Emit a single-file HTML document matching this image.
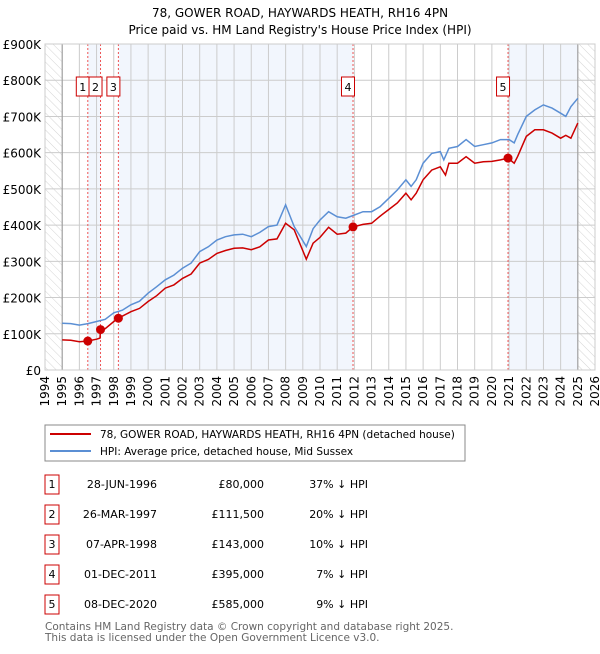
<!DOCTYPE html>
<html><head><meta charset="utf-8"><style>
body{margin:0;background:#fff;font-family:"DejaVu Sans","Liberation Sans",sans-serif;}
svg text{font-family:"DejaVu Sans","Liberation Sans",sans-serif;}
</style></head><body>
<svg id="c" width="600" height="650" xmlns="http://www.w3.org/2000/svg">
<defs><pattern id="hatch" width="6" height="6" patternUnits="userSpaceOnUse" patternTransform="rotate(-45)"><line x1="0" y1="0" x2="0" y2="6" stroke="#d4d4d4" stroke-width="1"/></pattern></defs>
<text x="300" y="17" text-anchor="middle" font-size="12">78, GOWER ROAD, HAYWARDS HEATH, RH16 4PN</text>
<text x="300" y="34" text-anchor="middle" font-size="12">Price paid vs. HM Land Registry's House Price Index (HPI)</text>
<g id="plot"></g>
<rect x="45" y="425" width="420" height="36" fill="#fff" stroke="#888"/>
<line x1="50" y1="434" x2="91" y2="434" stroke="#cc0000" stroke-width="2"/>
<text x="100" y="438" font-size="10.5">78, GOWER ROAD, HAYWARDS HEATH, RH16 4PN (detached house)</text>
<line x1="50" y1="451" x2="91" y2="451" stroke="#5b8fd4" stroke-width="2"/>
<text x="100" y="455" font-size="10.5">HPI: Average price, detached house, Mid Sussex</text>
<g id="table"></g>
<text x="45" y="630" font-size="10.5" fill="#666">Contains HM Land Registry data © Crown copyright and database right 2025.</text>
<text x="45" y="641" font-size="10.5" fill="#666">This data is licensed under the Open Government Licence v3.0.</text>
</svg>
<script>
const hpiYears=[1995,1995.5,1996,1996.5,1997,1997.5,1998,1998.5,1999,1999.5,2000,2000.5,2001,2001.5,2002,2002.5,2003,2003.5,2004,2004.5,2005,2005.5,2006,2006.5,2007,2007.5,2008,2008.5,2009.2,2009.6,2010,2010.5,2011,2011.5,2012,2012.5,2013,2013.5,2014,2014.5,2015,2015.3,2015.6,2016,2016.5,2017,2017.2,2017.5,2018,2018.5,2019,2019.5,2020,2020.5,2021,2021.3,2021.5,2022,2022.5,2023,2023.5,2024,2024.3,2024.6,2025];
const hpiValues=[129,128,124,128,134,140,158,165,180,190,212,230,249,262,281,295,327,340,359,368,373,375,368,380,396,400,456,396,341,390,414,437,423,419,428,437,437,451,474,497,525,507,525,571,598,603,580,612,617,636,617,622,627,636,636,627,650,700,718,732,723,709,700,727,750];
const priceYears=[1995,1995.5,1996,1996.49,1997,1997.2,1997.23,1997.5,1998,1998.27,1999,1999.5,2000,2000.5,2001,2001.5,2002,2002.5,2003,2003.5,2004,2004.5,2005,2005.5,2006,2006.5,2007,2007.5,2008,2008.5,2009.2,2009.6,2010,2010.5,2011,2011.5,2011.92,2012.5,2013,2013.5,2014,2014.5,2015,2015.3,2015.6,2016,2016.5,2017,2017.3,2017.5,2018,2018.5,2019,2019.5,2020,2020.5,2020.94,2021.3,2021.5,2022,2022.5,2023,2023.5,2024,2024.3,2024.6,2025];
const priceValues=[83,82,78,80,85,88,111,114,134,143,161,170,189,205,226,235,253,265,295,305,322,330,336,337,332,340,359,362,405,387,306,350,366,394,375,378,395,402,405,425,443,461,488,470,488,525,552,561,538,571,571,589,571,575,576,580,585,571,590,645,663,663,654,640,648,640,682];
const saleYears=[1996.49,1997.23,1998.27,2011.92,2020.94];
const saleValues=[80,111.5,143,395,585];
const saleLabels=["1","2","3","4","5"];
const saleDates=["28-JUN-1996","26-MAR-1997","07-APR-1998","01-DEC-2011","08-DEC-2020"];
const salePrices=["£80,000","£111,500","£143,000","£395,000","£585,000"];
const salePcts=["37% ↓ HPI","20% ↓ HPI","10% ↓ HPI","7% ↓ HPI","9% ↓ HPI"];
const yTicks=[0,100,200,300,400,500,600,700,800,900];
const yTickLabels=["£0","£100K","£200K","£300K","£400K","£500K","£600K","£700K","£800K","£900K"];
const xTicks=[1994,1995,1996,1997,1998,1999,2000,2001,2002,2003,2004,2005,2006,2007,2008,2009,2010,2011,2012,2013,2014,2015,2016,2017,2018,2019,2020,2021,2022,2023,2024,2025,2026];

const NS="http://www.w3.org/2000/svg";
const L=45,R=595,T=44,B=370;
const x=v=>L+(v-1994)/32*(R-L);
const y=v=>B-v/900*(B-T);
const plot=document.getElementById('plot');
function mk(tag,attrs,parent){const e=document.createElementNS(NS,tag);for(const k in attrs)e.setAttribute(k,attrs[k]);(parent||plot).appendChild(e);return e;}
let e;
e=mk('rect',{x:L,y:T,width:R-L,height:B-T,fill:'#fff'});


const bandEdges=[saleYears[0],saleYears[1],saleYears[2],saleYears[3],saleYears[4],2025];
[[0,1],[2,3],[4,5]].forEach(p=>{
  e=mk('rect',{x:x(bandEdges[p[0]]),y:T,width:x(bandEdges[p[1]])-x(bandEdges[p[0]]),height:B-T,fill:'#f2f6fd'});
  
  
});
e=mk('rect',{x:x(1994),y:T,width:x(1995)-x(1994),height:B-T,fill:'url(#hatch)'});


e=mk('rect',{x:x(2025),y:T,width:x(2026)-x(2025),height:B-T,fill:'url(#hatch)'});


yTicks.forEach((t,i)=>{
  e=mk('line',{x1:L,x2:R,y1:y(t),y2:y(t),stroke:'#ccc','stroke-width':1});
  
  
  e=mk('text',{x:L-4,y:y(t)+5,'text-anchor':'end','font-size':12});
  e.textContent=yTickLabels[i];
  
  
});
xTicks.forEach(t=>{
  e=mk('line',{x1:x(t),x2:x(t),y1:T,y2:B,stroke:'#ccc','stroke-width':1});
  
  
  e=mk('text',{x:0,y:0,'text-anchor':'end','font-size':12,transform:`translate(${x(t)+4},${B+6}) rotate(-90)`});
  e.textContent=t;
  
  
});
e=mk('line',{x1:x(1995),x2:x(1995),y1:T,y2:B,stroke:'#999','stroke-width':1});


e=mk('line',{x1:x(2025),x2:x(2025),y1:T,y2:B,stroke:'#999','stroke-width':1});


saleYears.forEach((s,i)=>{
  e=mk('line',{x1:x(s),x2:x(s),y1:T,y2:B,stroke:'#e55','stroke-width':1,'stroke-dasharray':'2,2'});
  
  
});
function path(xs,vs,col,name){
  const d=xs.map((v,i)=>(i?'L':'M')+x(v).toFixed(1)+','+y(vs[i]).toFixed(1)).join('');
  e=mk('path',{d:d,fill:'none',stroke:col,'stroke-width':1.5});
  
  
}
path(hpiYears,hpiValues,'#5b8fd4','hpi-line');
path(priceYears,priceValues,'#cc0000','price-line');
saleYears.forEach((s,i)=>{
  e=mk('circle',{cx:x(s),cy:y(saleValues[i]),r:4.5,fill:'#cc0000'});
  
  
  e=mk('rect',{x:x(s)-11.5,y:77,width:13,height:19,fill:'#fff',stroke:'#cc0000'});
  
  
  e=mk('text',{x:x(s)-5,y:91,'text-anchor':'middle','font-size':11});
  e.textContent=saleLabels[i];
  
  
});
e=mk('rect',{x:L,y:T,width:R-L,height:B-T,fill:'none',stroke:'#ccc'});


const tb=document.getElementById('table');
saleLabels.forEach((l,i)=>{
  const cy=483+i*30;
  e=mk('rect',{x:45,y:cy-8,width:14,height:19,fill:'#fff',stroke:'#cc0000'},tb);
  
  
  e=mk('text',{x:52,y:cy+5,'text-anchor':'middle','font-size':11},tb);
  e.textContent=l;
  
  
  e=mk('text',{x:157,y:cy+5,'text-anchor':'end','font-size':11},tb);
  e.textContent=saleDates[i];
  
  
  e=mk('text',{x:264,y:cy+5,'text-anchor':'end','font-size':11},tb);
  e.textContent=salePrices[i];
  
  
  e=mk('text',{x:368,y:cy+5,'text-anchor':'end','font-size':11},tb);
  e.textContent=salePcts[i];
  
  
});
</script>
</body></html>
